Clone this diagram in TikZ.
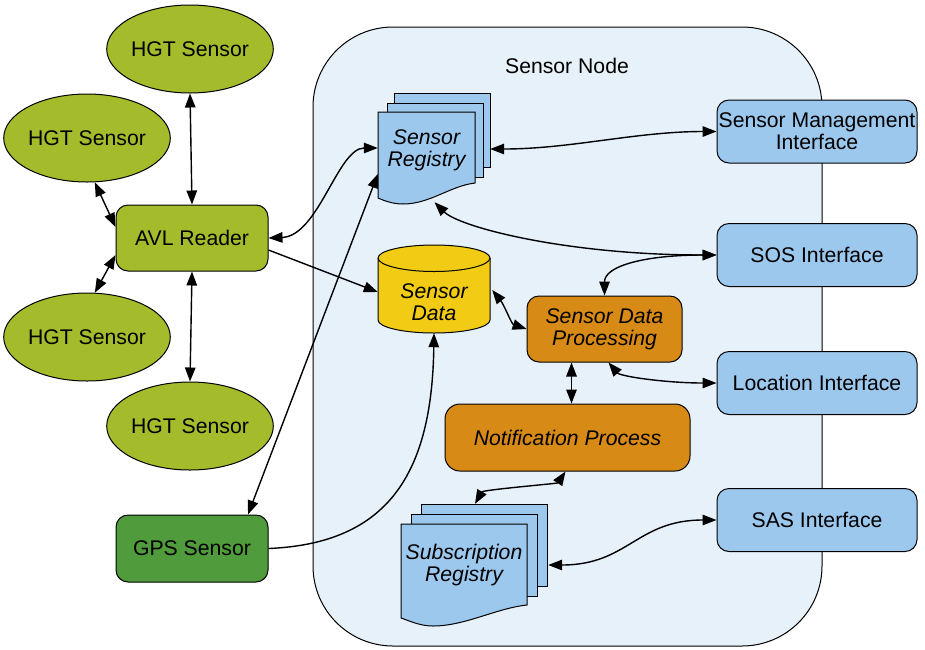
\documentclass[tikz,border=0pt]{standalone}
\usepackage{fontspec}
\setmainfont{Liberation Sans}
\usetikzlibrary{arrows.meta,shapes.geometric,calc}

\definecolor{hgtgreen}{HTML}{A4BC2B}
\definecolor{gpsgreen}{HTML}{509B3B}
\definecolor{ifblue}{HTML}{9CC8EE}
\definecolor{nodebg}{HTML}{E7F1FA}
\definecolor{datayellow}{HTML}{F2CC14}
\definecolor{procorange}{HTML}{D88A17}

\begin{document}
\begin{tikzpicture}[x=1pt,y=-1pt,
  every node/.style={font=\fontsize{21.2}{22}\selectfont, align=center},
  italictext/.style={font=\fontsize{21.2}{22}\selectfont\itshape},
  outline/.style={draw=black, line width=1pt},
  hgt/.style={ellipse, outline, fill=hgtgreen, minimum width=156pt, minimum height=88pt, inner sep=0pt},
  box/.style={rectangle, outline, rounded corners=12pt, inner sep=0pt},
  reader/.style={box, fill=hgtgreen, minimum width=152pt, minimum height=66pt},
  gpsbox/.style={box, fill=gpsgreen, minimum width=152pt, minimum height=67pt},
  iface/.style={box, fill=ifblue, minimum width=200pt, minimum height=63pt},
  proc/.style={box, italictext, fill=procorange},
  doc/.style={outline, fill=ifblue},
  doctext/.style={rectangle, italictext, inner sep=0pt},
  link/.style={line width=1.4pt, {Triangle[length=14pt,width=10.5pt]}-{Triangle[length=14pt,width=10.5pt]}},
  oneway/.style={line width=1.4pt, -{Triangle[length=14pt,width=10.5pt]}}]

\useasboundingbox (0,0) rectangle (925,649);

% enclosing sensor node
\draw[outline, fill=nodebg, rounded corners=80pt] (313,27) rectangle (822,646);
\node (title) at (567,66) {Sensor Node};

% sensors and reader
\node[hgt] (hgt1) at (190,49) {HGT Sensor};
\node[hgt] (hgt2) at (87,138) {HGT Sensor};
\node[hgt] (hgt3) at (87,337) {HGT Sensor};
\node[hgt] (hgt4) at (190,426) {HGT Sensor};
\node[reader] (avl) at (192,238) {AVL Reader};
\node[gpsbox] (gps) at (192,548.5) {GPS Sensor};

% sensor registry: stacked documents
\draw[doc] (394,93) rectangle (490,167);
\draw[doc] (387,103) rectangle (483,177);
\draw[doc] (378,112) -- (475,112) -- (475,183)
  .. controls (450,186) and (430,204) .. (403,204)
  .. controls (393,204) and (385,201) .. (378,198) -- cycle;
\node[doctext, minimum width=97pt, minimum height=76pt] (reg) at (426.5,150) {Sensor\\Registry};

% sensor data store
\draw[outline, fill=datayellow] (378,258) -- (378,320)
  .. controls (378,327.2) and (403.1,333) .. (434,333)
  .. controls (464.9,333) and (490,327.2) .. (490,320) -- (490,258)
  .. controls (490,250.8) and (464.9,245) .. (434,245)
  .. controls (403.1,245) and (378,250.8) .. (378,258) -- cycle;
\draw[outline] (378,258) .. controls (378,265.2) and (403.1,271.5) .. (434,271.5)
  .. controls (464.9,271.5) and (490,265.2) .. (490,258);
\node[doctext, minimum width=112pt, minimum height=62pt] (sdata) at (434,302) {Sensor\\Data};

% processing
\node[proc, minimum width=155pt, minimum height=66pt] (sdp) at (604.5,329) {Sensor Data\\Processing};
\node[proc, rounded corners=15pt, minimum width=245pt, minimum height=67pt] (notif) at (567.5,437.5) {Notification Process};

% subscription registry: stacked documents
\draw[doc] (421,504) rectangle (547,586);
\draw[doc] (411,514) rectangle (537,596);
\draw[doc] (401,524) -- (527,524) -- (527,605)
  .. controls (497,608) and (465,626) .. (433,626)
  .. controls (420,626) and (410,621) .. (401,618) -- cycle;
\node[doctext, minimum width=126pt, minimum height=82pt] (subreg) at (464,565) {Subscription\\Registry};

% interfaces
\node[iface] (smi) at (817,131.5) {Sensor Management\\Interface};
\node[iface] (sos) at (817,255) {SOS Interface};
\node[iface] (loc) at (817,383) {Location Interface};
\node[iface] (sas) at (817,520) {SAS Interface};

% connectors
\draw[link] (hgt1.south) -- (avl.north);
\draw[link] (hgt2.-80) -- ([yshift=11pt]avl.west);
\draw[link] (hgt3.80) -- ([yshift=-17pt]avl.west);
\draw[link] (hgt4.north) -- (avl.south);
\draw[link] (avl.east) .. controls +(50,-2) and +(-40,0) .. ([yshift=2pt]reg.west);
\draw[oneway] ([yshift=-12pt]avl.east) -- ([yshift=10pt]sdata.west);
\draw[link] ([xshift=56pt]gps.north) -- ([yshift=-24pt]reg.west);
\draw[oneway] (gps.east) .. controls +(120,-5) and +(-2,140) .. (sdata.south);
\draw[link] ([xshift=15pt,yshift=1pt]reg.east) .. controls +(80,0) and +(-80,0) .. (smi.west);
\draw[link] ([xshift=8pt,yshift=-14pt]reg.south) .. controls +(25,25) and +(-150,0) .. (sos.west);
\draw[link] ([xshift=2pt,yshift=12pt]sdata.east) .. controls +(12,15) and +(-15,-5) .. (sdp.west);
\draw[link] (sdp.north) .. controls +(0,-30) and +(-70,0) .. (sos.west);
\draw[link] ([xshift=4pt]sdp.south) .. controls +(12,14) and +(-50,0) .. (loc.west);
\draw[link] ([xshift=-33pt]sdp.south) -- ([xshift=4pt]notif.north);
\draw[link] ([xshift=-2pt]notif.south) .. controls +(-8,12) and +(8,-14) .. ([xshift=11pt,yshift=20pt]subreg.north);
\draw[link] ([xshift=21pt]subreg.east) .. controls +(80,0) and +(-80,0) .. (sas.west);
\end{tikzpicture}
\end{document}
